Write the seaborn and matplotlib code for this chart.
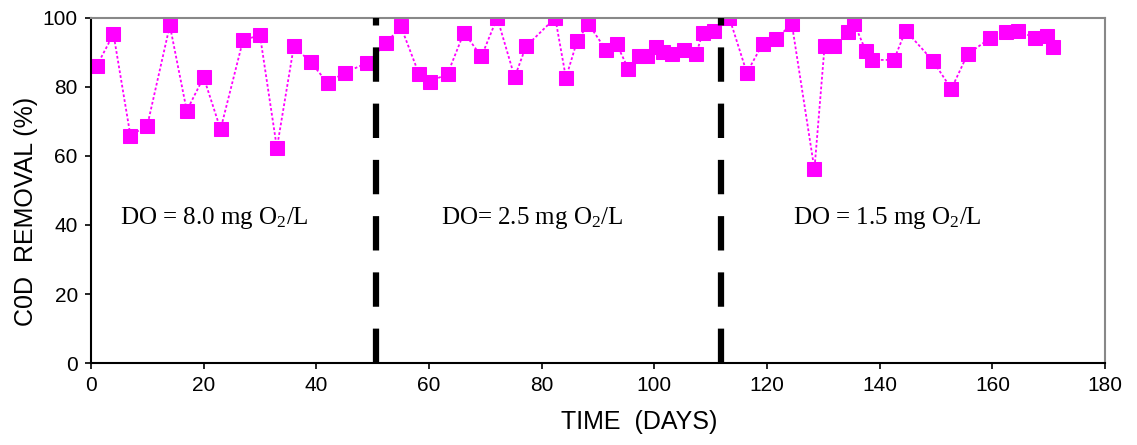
import numpy as np
import pandas as pd
import matplotlib
matplotlib.use("Agg")
import matplotlib.pyplot as plt
import seaborn as sns

# COD removal over time
days = [1, 4, 7, 10, 14, 17, 20, 23, 27, 30, 33, 36, 39, 42, 45, 49,
        52.4, 55, 58.2, 60.2, 63.3, 66.2, 69.3, 72.1, 75.2, 77.2, 82.4, 84.3, 86.3, 88.3,
        91.4, 93.3, 95.4, 97.3, 98.6, 100.3, 101.6, 103.2, 105.3, 107.4, 108.6, 110.5,
        113.3, 116.4, 119.2, 121.5, 124.4, 128.4, 130.2, 131.8, 134.3, 135.5, 137.5, 138.6,
        142.5, 144.6, 149.4, 152.7, 155.6, 159.6, 162.4, 164.5, 167.6, 169.6, 170.7]
cod_removal = [86, 95.3, 65.9, 68.8, 97.8, 73.1, 82.8, 67.7, 93.6, 94.9, 62.3, 91.7, 87.2, 81.1, 84.1, 86.9,
               92.7, 97.5, 83.8, 81.5, 83.8, 95.7, 88.8, 100, 82.8, 91.7, 100, 82.6, 93.4, 98.2,
               90.7, 92.4, 85.1, 89.0, 89.0, 91.5, 90.2, 89.5, 90.7, 89.5, 95.7, 96.3,
               100, 84.1, 92.4, 93.8, 98.2, 56.1, 91.7, 91.7, 96.0, 98.2, 90.5, 87.8,
               87.8, 96.3, 87.6, 79.4, 89.5, 94.1, 96.0, 96.3, 94.1, 94.6, 91.5]

# change of dissolved oxygen set point
phase_breaks = [50.6, 111.8]
phase_labels = [r"DO = 8.0 mg O$_2$/L", r"DO= 2.5 mg O$_2$/L", r"DO = 1.5 mg O$_2$/L"]
label_x = [5.1, 62.2, 124.6]
label_y = 42

df = pd.DataFrame({"day": days, "cod": cod_removal})

sns.set_style("ticks")
plt.rcParams["font.family"] = ["Liberation Sans", "DejaVu Sans"]
plt.rcParams["mathtext.fontset"] = "custom"
plt.rcParams["mathtext.rm"] = "Liberation Serif"
plt.rcParams["mathtext.it"] = "Liberation Serif"
plt.rcParams["text.color"] = "black"
plt.rcParams["axes.labelcolor"] = "black"
plt.rcParams["xtick.color"] = "black"
plt.rcParams["ytick.color"] = "black"

fig = plt.figure(figsize=(11.37, 4.45), dpi=100)
ax = fig.add_axes([0.080, 0.184, 0.892, 0.776])

sns.lineplot(data=df, x="day", y="cod", ax=ax, color="#ff00ff",
             linestyle=(0, (1.5, 1.2)), linewidth=1.3,
             marker="s", markersize=10.5, markeredgecolor="#ff00ff")

for xb in phase_breaks:
    ax.plot([xb, xb], [0, 100], color="black", linewidth=4.5,
            linestyle=(0, (5.5, 3.5)), zorder=3)

for tx, lbl in zip(label_x, phase_labels):
    ax.text(tx, label_y, lbl, family="Liberation Serif", fontsize=18,
            va="center", ha="left")

ax.set_xlim(0, 180)
ax.set_ylim(0, 100)
ax.set_xticks(np.arange(0, 181, 20))
ax.set_yticks(np.arange(0, 101, 20))
ax.tick_params(labelsize=15, length=4.5, width=1.2, direction="out", pad=5)
ax.set_xlabel("TIME  (DAYS)", fontsize=18, labelpad=6)
ax.set_ylabel("C0D  REMOVAL (%)", fontsize=18, labelpad=8)
ax.xaxis.set_label_coords(0.541, -0.135)
ax.yaxis.set_label_coords(-0.052, 0.438)

for side in ["left", "bottom"]:
    ax.spines[side].set_color("black")
    ax.spines[side].set_linewidth(1.5)
for side in ["top", "right"]:
    ax.spines[side].set_visible(True)
    ax.spines[side].set_color("#888888")
    ax.spines[side].set_linewidth(1.5)

fig.savefig("out.png", dpi=100)
